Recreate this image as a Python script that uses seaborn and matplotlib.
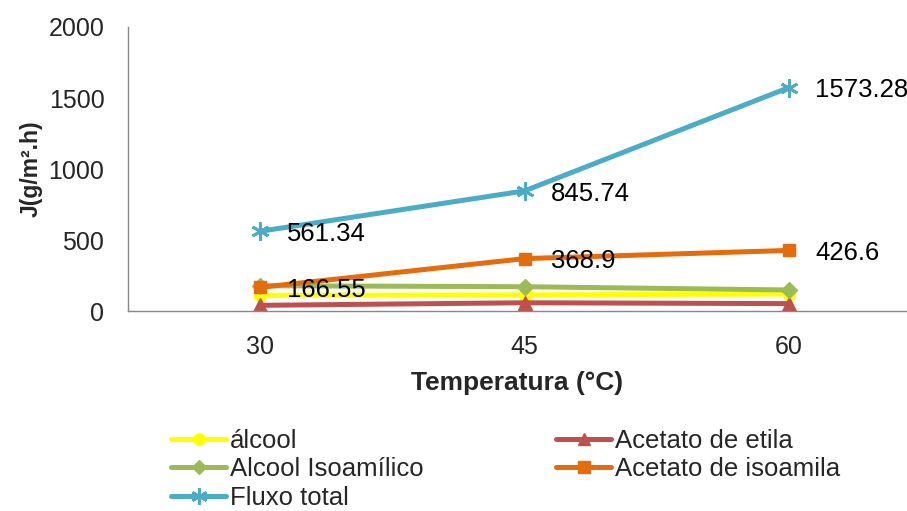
import matplotlib
matplotlib.use("Agg")
import matplotlib.pyplot as plt
from matplotlib.lines import Line2D
import seaborn as sns
import pandas as pd

temperaturas = ["30", "45", "60"]
alcool = [110, 113, 120]
acetato_etila = [40, 58, 52]
alcool_isoamilico = [178, 171, 148]
acetato_isoamila = [166.55, 368.9, 426.6]
fluxo_total = [561.34, 845.74, 1573.28]
rotulos_isoamila = ["166.55", "368.9", "426.6"]
rotulos_total = ["561.34", "845.74", "1573.28"]

series = [
    ("álcool", alcool, "#FFFF00", "o", 9),
    ("Acetato de etila", acetato_etila, "#C0504D", "^", 10),
    ("Alcool Isoamílico", alcool_isoamilico, "#9BBB59", "D", 8),
    ("Acetato de isoamila", acetato_isoamila, "#E46C0A", "s", 9),
    ("Fluxo total", fluxo_total, "#4BACC6", (6, 2, 0), 13),
]

sns.set_style("white")
plt.rcParams["font.family"] = ["Liberation Sans", "DejaVu Sans"]

fig = plt.figure(figsize=(9.07, 5.11), dpi=100)
ax = fig.add_axes([128/907, (511-311)/511, 1 - 128/907, (311-27)/511])

pos = list(range(len(temperaturas)))
handles = {}
for name, vals, color, marker, ms in series:
    df = pd.DataFrame({"x": pos, "y": vals})
    mew = 2 if marker == (6, 2, 0) else 1
    sns.lineplot(data=df, x="x", y="y", ax=ax, color=color, linewidth=3.6,
                 marker=marker, markersize=ms, markeredgecolor=color,
                 markeredgewidth=mew)
    handles[name] = Line2D([], [], color=color, linewidth=3.6, marker=marker,
                           markersize=ms * 0.9, markeredgecolor=color,
                           markeredgewidth=mew)

for vals, labs in [(acetato_isoamila, rotulos_isoamila), (fluxo_total, rotulos_total)]:
    for x, v, t in zip(pos, vals, labs):
        ax.annotate(t, (x, v), xytext=(19, -2), textcoords="offset points",
                    va="center", ha="left", fontsize=18.5, color="black")

ax.set_xlim(-0.5, (907 - 261) / 264)
ax.set_ylim(0, 2000)
ax.set_yticks([0, 500, 1000, 1500, 2000])
ax.set_xticks(pos)
ax.set_xticklabels(temperaturas)
ax.set_xticks([-0.5, 0.5, 1.5], minor=True)
ax.tick_params(axis="x", which="major", length=0, pad=17, labelsize=18)
ax.tick_params(axis="x", which="minor", length=6, width=1, color="#888888", direction="out")
ax.tick_params(axis="y", length=6, width=1, color="#888888", direction="out", labelsize=18, pad=11)
for s in ["top", "right"]:
    ax.spines[s].set_visible(False)
for s in ["left", "bottom"]:
    ax.spines[s].set_color("#888888")
    ax.spines[s].set_linewidth(1)

ax.set_xlabel("Temperatura (°C)", fontsize=19, fontweight="bold", labelpad=9)
ax.set_ylabel("J(g/m².h)", fontsize=16.5, fontweight="bold", labelpad=4)

col1 = ["álcool", "Alcool Isoamílico", "Fluxo total"]
col2 = ["Acetato de etila", "Acetato de isoamila"]
common = dict(loc="upper left", frameon=False, fontsize=18.5, handlelength=2.15,
              handletextpad=0.15, labelspacing=0.17, borderpad=0, borderaxespad=0)
fig.legend([handles[n] for n in col1], col1, bbox_to_anchor=(171/907, 1 - 429/511), **common)
fig.legend([handles[n] for n in col2], col2, bbox_to_anchor=(556/907, 1 - 429/511), **common)

fig.savefig("out.png", dpi=100)
